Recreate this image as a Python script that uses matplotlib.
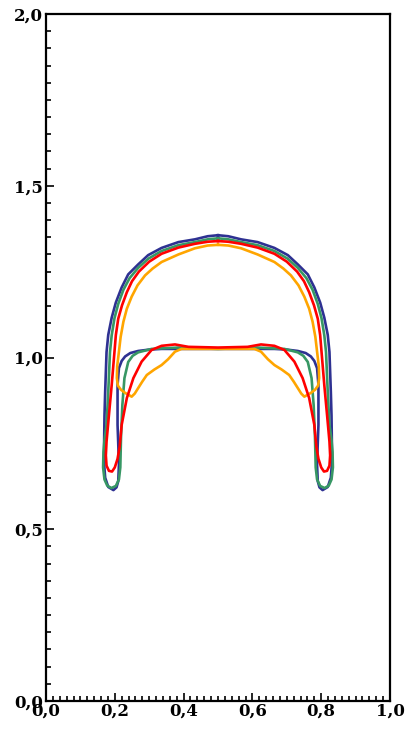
import numpy as np
import matplotlib
matplotlib.use("Agg")
import matplotlib.pyplot as plt
from matplotlib.ticker import MultipleLocator, FuncFormatter

# Left-half contours (x <= 0.5), traced from the top centre around the skirt
# and back along the inner surface to the centre; the bubble is symmetric about x = 0.5.
blue_x = [0.500, 0.470, 0.433, 0.385, 0.336, 0.297, 0.268, 0.239, 0.220, 0.203, 0.191, 0.181,
          0.176, 0.172, 0.170, 0.169, 0.169, 0.172, 0.181, 0.196, 0.205, 0.210, 0.212, 0.210,
          0.208, 0.208, 0.212, 0.220, 0.230, 0.245, 0.268, 0.300, 0.336, 0.500]
blue_y = [1.356, 1.353, 1.344, 1.336, 1.319, 1.298, 1.271, 1.242, 1.204, 1.160, 1.116, 1.066,
          1.016, 0.900, 0.830, 0.754, 0.690, 0.650, 0.623, 0.614, 0.622, 0.640, 0.687, 0.750,
          0.804, 0.920, 0.969, 0.990, 1.003, 1.013, 1.019, 1.023, 1.025, 1.025]

green_x = [0.500, 0.470, 0.433, 0.385, 0.336, 0.298, 0.268, 0.243, 0.225, 0.210, 0.199, 0.191,
           0.186, 0.181, 0.176, 0.170, 0.167, 0.166, 0.170, 0.178, 0.190, 0.203, 0.212, 0.216,
           0.218, 0.222, 0.228, 0.239, 0.252, 0.268, 0.307, 0.385, 0.500]
green_y = [1.347, 1.344, 1.336, 1.327, 1.310, 1.288, 1.261, 1.231, 1.197, 1.156, 1.114, 1.065,
           1.016, 0.900, 0.804, 0.760, 0.725, 0.680, 0.645, 0.627, 0.620, 0.626, 0.645, 0.680,
           0.766, 0.862, 0.940, 0.987, 1.005, 1.015, 1.025, 1.029, 1.025]

red_x = [0.500, 0.470, 0.433, 0.385, 0.336, 0.300, 0.270, 0.250, 0.235, 0.221, 0.210, 0.203,
         0.199, 0.191, 0.183, 0.176, 0.174, 0.176, 0.183, 0.192, 0.200, 0.208, 0.214, 0.220,
         0.235, 0.254, 0.278, 0.307, 0.336, 0.375, 0.414, 0.500]
red_y = [1.339, 1.337, 1.331, 1.320, 1.302, 1.279, 1.250, 1.222, 1.190, 1.152, 1.113, 1.065,
         1.016, 0.920, 0.833, 0.755, 0.715, 0.685, 0.670, 0.668, 0.680, 0.705, 0.740, 0.804,
         0.882, 0.940, 0.988, 1.022, 1.034, 1.038, 1.031, 1.029]

orange_x = [0.500, 0.470, 0.433, 0.385, 0.336, 0.310, 0.288, 0.266, 0.249, 0.235, 0.225, 0.217,
            0.212, 0.207, 0.206, 0.209, 0.218, 0.230, 0.249, 0.258, 0.268, 0.280, 0.293, 0.315,
            0.336, 0.355, 0.375, 0.394, 0.500]
orange_y = [1.328, 1.326, 1.318, 1.300, 1.278, 1.259, 1.239, 1.210, 1.177, 1.142, 1.104, 1.060,
            1.017, 0.975, 0.940, 0.918, 0.906, 0.897, 0.886, 0.895, 0.911, 0.930, 0.949, 0.965,
            0.978, 0.995, 1.017, 1.025, 1.025]

series = [
    (blue_x, blue_y, "#2E3192"),
    (green_x, green_y, "#379764"),
    (orange_x, orange_y, "#FFA500"),
    (red_x, red_y, "#FF0000"),
]

fig = plt.figure(figsize=(4.07, 7.30), dpi=100)
ax = fig.add_axes([46 / 407, 29 / 730, 344 / 407, 687 / 730])

for hx, hy, col in series:
    hx = np.asarray(hx)
    hy = np.asarray(hy)
    # full closed contour: left half then its mirror image traversed back
    fx = np.concatenate([hx, (1.0 - hx)[::-1]])
    fy = np.concatenate([hy, hy[::-1]])
    ax.plot(fx, fy, color=col, lw=1.9, solid_joinstyle="round")

ax.set_xlim(0, 1)
ax.set_ylim(0, 2)

fmt = FuncFormatter(lambda v, p: f"{v:.1f}".replace(".", ","))
ax.xaxis.set_major_locator(MultipleLocator(0.2))
ax.xaxis.set_minor_locator(MultipleLocator(0.02))
ax.yaxis.set_major_locator(MultipleLocator(0.5))
ax.yaxis.set_minor_locator(MultipleLocator(0.05))
ax.xaxis.set_major_formatter(fmt)
ax.yaxis.set_major_formatter(fmt)

ax.tick_params(which="both", direction="in", top=False, right=False, width=1.2)
ax.tick_params(which="major", length=6)
ax.tick_params(which="minor", length=3.5)
ax.tick_params(axis="x", which="major", pad=1)
ax.tick_params(axis="y", which="major", pad=2)

for lab in ax.get_xticklabels() + ax.get_yticklabels():
    lab.set_fontfamily("DejaVu Serif")
    lab.set_fontweight("bold")
    lab.set_fontsize(12)

for sp in ax.spines.values():
    sp.set_linewidth(1.6)

fig.savefig("out.png", dpi=100)
